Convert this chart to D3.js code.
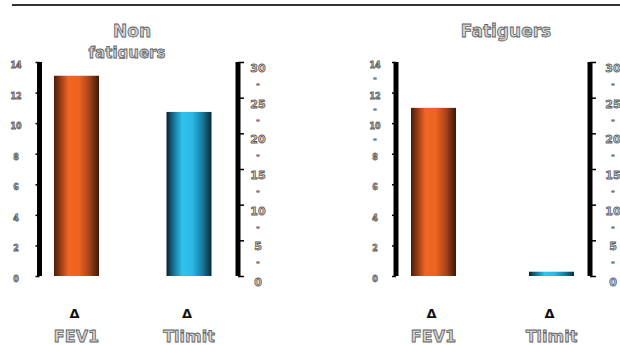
<!DOCTYPE html>
<html><head><meta charset="utf-8">
<script src="https://cdn.jsdelivr.net/npm/d3@7"></script>
<style>html,body{margin:0;padding:0;background:#fff;}svg{display:block;}</style>
</head><body>
<script>
const categories = ["FEV1", "Tlimit"];
const panelTitles = ["Non", "Fatiguers"];
const panelSubtitles = ["fatiguers", ""];
const fev1Values = [13.1, 11.0];      // left axis (0-14)
const tlimitValues = [23.0, 0.6];     // right axis (0-30)
const leftTicks = [0, 2, 4, 6, 8, 10, 12, 14];
const rightTicks = [0, 5, 10, 15, 20, 25, 30];
const rightMinor = [2.5, 7.5, 12.5, 17.5, 22.5, 27.5];
const leftMinorPanel2 = [9, 11, 13];

const W = 620, H = 345;
const svg = d3.select("body").append("svg").attr("width", W).attr("height", H);
const defs = svg.append("defs");

function grad(id, stops) {
  const g = defs.append("linearGradient").attr("id", id).attr("x1", "0%").attr("x2", "100%").attr("y1", "0%").attr("y2", "0%");
  stops.forEach(s => g.append("stop").attr("offset", s[0]).attr("stop-color", s[1]));
}
grad("gOrange", [["0%", "#4a1c0a"], ["12%", "#8a3512"], ["32%", "#f26522"], ["55%", "#ef6320"], ["78%", "#a8431a"], ["100%", "#3e1808"]]);
grad("gBlue", [["0%", "#08222e"], ["12%", "#136080"], ["35%", "#2fc3f0"], ["58%", "#2ab8e6"], ["80%", "#177a9e"], ["100%", "#0a2a38"]]);

defs.append("clipPath").attr("id", "subClip").append("rect").attr("x", 0).attr("y", 0).attr("width", W).attr("height", 59);

// top rule
svg.append("line").attr("x1", 12).attr("x2", 620).attr("y1", 5).attr("y2", 5).attr("stroke", "#333").attr("stroke-width", 2);

const yL = d3.scaleLinear().domain([0, 14]).range([276, 62]);
const yR = d3.scaleLinear().domain([0, 30]).range([276, 62]);

const panels = [
  { title: panelTitles[0], sub: panelSubtitles[0], titleX: 132, xRange: [76.5, 189], leftAxisX: 39.5, rightAxisX: 238, leftLabelX: 16, rightLabelX: 258, leftMinor: [] },
  { title: panelTitles[1], sub: panelSubtitles[1], titleX: 506, xRange: [433.5, 551.5], leftAxisX: 396, rightAxisX: 590, leftLabelX: 375, rightLabelX: 613, leftMinor: leftMinorPanel2 }
];

const outlineText = sel => sel.attr("font-family", "DejaVu Sans, Arial, sans-serif").attr("font-weight", "bold")
  .attr("fill", "#d2d2d2").attr("stroke", "#606060").attr("stroke-width", 0.8).attr("text-anchor", "middle");

panels.forEach((p, i) => {
  const g = svg.append("g");
  const x = d3.scalePoint().domain(categories).range(p.xRange);
  const bw = 45;

  // titles
  g.append("text").text(p.title).attr("x", p.titleX).attr("y", 37).attr("font-size", 17).call(outlineText);
  if (p.sub) {
    g.append("text").text(p.sub).attr("x", p.titleX - 5).attr("y", 58).attr("font-size", 15)
      .attr("clip-path", "url(#subClip)").call(outlineText);
  }

  // bars
  g.append("rect").attr("x", x("FEV1") - bw / 2).attr("width", bw)
    .attr("y", yL(fev1Values[i])).attr("height", yL(0) - yL(fev1Values[i]))
    .attr("fill", "url(#gOrange)");
  g.append("rect").attr("x", x("Tlimit") - bw / 2).attr("width", bw)
    .attr("y", yR(tlimitValues[i])).attr("height", yR(0) - yR(tlimitValues[i]))
    .attr("fill", "url(#gBlue)");

  // left axis
  const la = g.append("g").attr("transform", `translate(${p.leftAxisX},0)`)
    .call(d3.axisLeft(yL).tickValues(leftTicks).tickSize(4).tickFormat(""));
  la.select(".domain").attr("stroke", "#000").attr("stroke-width", 5).attr("d", `M0,${yL(14)}V${yL(0)}`);
  la.selectAll(".tick line").attr("stroke", "#000").attr("stroke-width", 1.5);
  g.selectAll(null).data(leftTicks).join("text").text(d => d)
    .attr("x", p.leftLabelX).attr("y", d => yL(d) + 6).attr("font-size", 8).call(outlineText);
  g.selectAll(null).data(p.leftMinor).join("text").text("-")
    .attr("x", p.leftLabelX).attr("y", d => yL(d) + 4).attr("font-size", 8).call(outlineText);

  // right axis
  const ra = g.append("g").attr("transform", `translate(${p.rightAxisX},0)`)
    .call(d3.axisRight(yR).tickValues(rightTicks).tickSize(6).tickFormat(""));
  ra.select(".domain").attr("stroke", "#000").attr("stroke-width", 5).attr("d", `M0,${yR(30)}V${yR(0)}`);
  ra.selectAll(".tick line").attr("stroke", "#000").attr("stroke-width", 1.5);
  g.selectAll(null).data(rightTicks).join("text").text(d => d)
    .attr("x", p.rightLabelX).attr("y", d => yR(d) + 10).attr("font-size", 11).call(outlineText);
  g.selectAll(null).data(rightMinor).join("text").text("-")
    .attr("x", p.rightLabelX).attr("y", d => yR(d) + 7).attr("font-size", 8).call(outlineText);

  // category labels
  g.selectAll(null).data(categories).join("text").text("Δ")
    .attr("x", d => x(d) - 2).attr("y", 318).attr("font-size", 13)
    .attr("font-family", "DejaVu Sans, Arial, sans-serif").attr("font-weight", "bold")
    .attr("text-anchor", "middle").attr("fill", "#111");
  g.selectAll(null).data(categories).join("text").text(d => d)
    .attr("x", d => x(d)).attr("y", 342).attr("font-size", 16).call(outlineText);
});
</script>
</body></html>
